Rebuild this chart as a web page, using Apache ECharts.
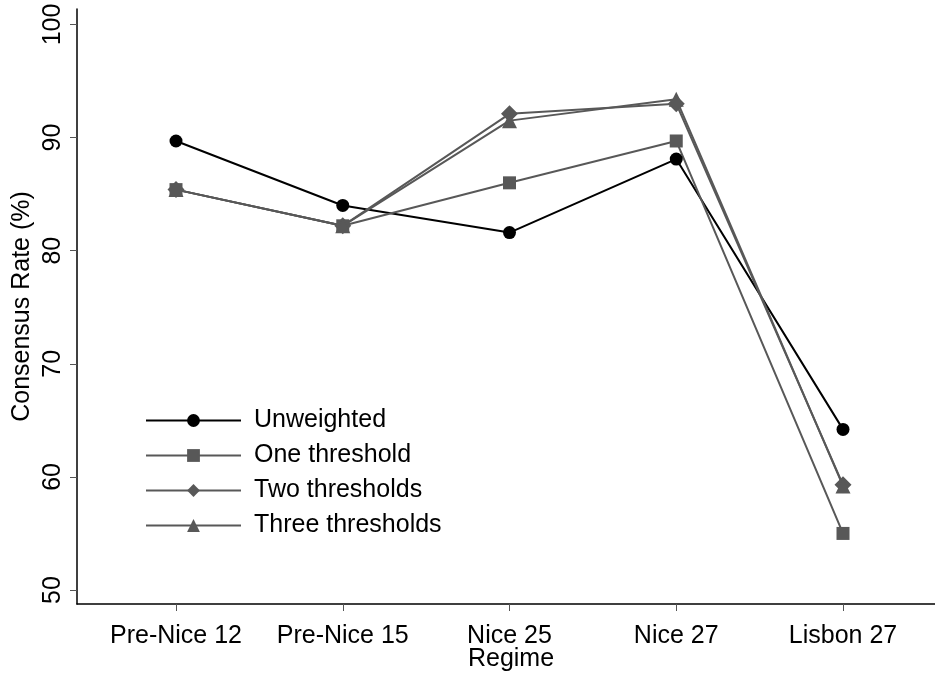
<!DOCTYPE html>
<html>
<head>
<meta charset="utf-8">
<script src="https://cdn.jsdelivr.net/npm/echarts@6/dist/echarts.min.js"></script>
<style>html,body{margin:0;padding:0;background:#fff}#c{width:935px;height:676px}</style>
</head>
<body>
<div id="c"></div>
<script>
var categories = ['Pre-Nice 12', 'Pre-Nice 15', 'Nice 25', 'Nice 27', 'Lisbon 27'];
var yTicks = [50, 60, 70, 80, 90, 100];
var unweighted = [89.7, 84.0, 81.6, 88.1, 64.2];
var oneThreshold = [85.4, 82.2, 86.0, 89.7, 55.0];
var twoThresholds = [85.4, 82.2, 92.1, 93.0, 59.3];
var threeThresholds = [85.4, 82.2, 91.5, 93.4, 59.2];

var FONT = 'Liberation Sans, Arial, sans-serif';
var GRAY = '#585858';
function pts(arr) { return arr.map(function (v, i) { return [i, v]; }); }
function mk(name, data, color, symbol, size) {
  return {
    name: name, type: 'line', data: pts(data),
    symbol: symbol, symbolSize: size,
    lineStyle: { color: color, width: 2 },
    itemStyle: { color: color },
    emphasis: { disabled: true },
    animation: false
  };
}
var chart = echarts.init(document.getElementById('c'), null, { renderer: 'canvas' });
chart.setOption({
  backgroundColor: '#fff',
  animation: false,
  grid: { left: 77, right: 0, top: 9, bottom: 72, containLabel: false, outerBoundsMode: 'none' },
  legend: {
    orient: 'vertical', left: 140, top: 403,
    itemWidth: 95, itemHeight: 16, itemGap: 10,
    textStyle: { fontFamily: FONT, fontSize: 25, color: '#000', padding: [0, 0, 0, 8] },
    data: ['Unweighted', 'One threshold', 'Two thresholds', 'Three thresholds']
  },
  xAxis: {
    type: 'value', min: -0.5937, max: 4.5517,
    name: 'Regime', nameLocation: 'middle', nameGap: 43, nameMoveOverlap: false,
    nameTextStyle: { fontFamily: FONT, fontSize: 25, color: '#000', padding: [0, 0, 0, 10] },
    splitLine: { show: false },
    axisLine: { onZero: false, lineStyle: { color: '#000', width: 1.5 } },
    axisTick: { length: 7, lineStyle: { color: '#555', width: 1 }, customValues: [0, 1, 2, 3, 4] },
    axisLabel: {
      customValues: [0, 1, 2, 3, 4], margin: 20,
      fontFamily: FONT, fontSize: 25, color: '#000',
      formatter: function (v) { return categories[Math.round(v)]; }
    }
  },
  yAxis: {
    type: 'value', min: 48.76, max: 101.37,
    name: 'Consensus Rate (%)', nameLocation: 'middle', nameGap: 42, nameRotate: 90, nameMoveOverlap: false,
    nameTextStyle: { fontFamily: FONT, fontSize: 25, color: '#000' },
    splitLine: { show: false },
    axisLine: { show: true, onZero: false, lineStyle: { color: '#000', width: 1.5 } },
    axisTick: { show: true, length: 7, lineStyle: { color: '#555', width: 1 }, customValues: yTicks },
    axisLabel: {
      customValues: yTicks, rotate: 90, margin: 11,
      fontFamily: FONT, fontSize: 25, color: '#000'
    }
  },
  series: [
    mk('Unweighted', unweighted, '#000', 'circle', 13),
    mk('One threshold', oneThreshold, GRAY, 'rect', 13),
    mk('Two thresholds', twoThresholds, GRAY, 'diamond', 17),
    mk('Three thresholds', threeThresholds, GRAY, 'triangle', 15)
  ]
});
</script>
</body>
</html>
